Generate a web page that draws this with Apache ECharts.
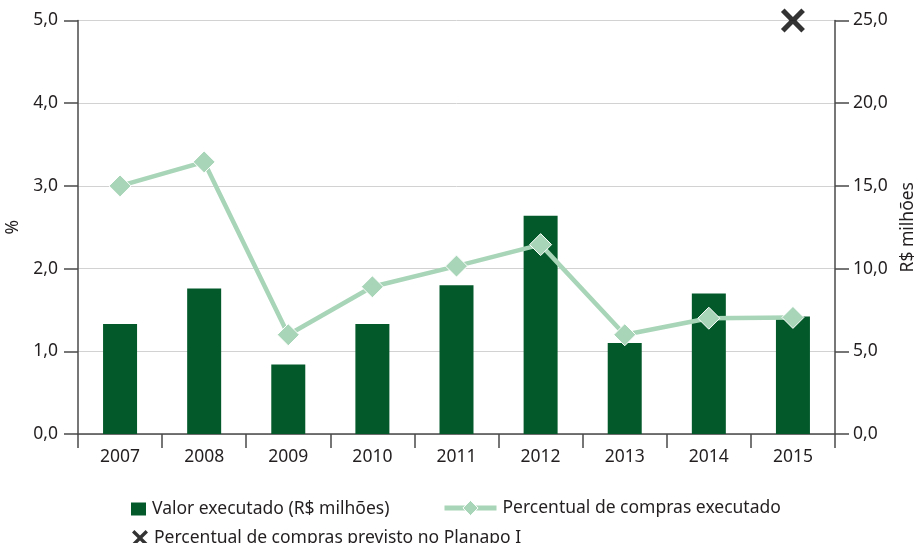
<!DOCTYPE html>
<html>
<head>
<meta charset="utf-8">
<script src="https://cdn.jsdelivr.net/npm/echarts@6/dist/echarts.min.js"></script>
<style>
  html, body { margin: 0; padding: 0; background: #fff; }
  #chart { width: 915px; height: 543px; }
</style>
</head>
<body>
<div id="chart"></div>
<script>
// dados
const anos = ["2007", "2008", "2009", "2010", "2011", "2012", "2013", "2014", "2015"];
const valorExecutado = [6.65, 8.8, 4.2, 6.65, 9.0, 13.2, 5.5, 8.5, 7.1]; // R$ milhões (eixo direito)
const percentualExecutado = [3.0, 3.29, 1.2, 1.78, 2.03, 2.29, 1.2, 1.4, 1.41]; // % (eixo esquerdo)
const percentualPrevisto = [null, null, null, null, null, null, null, null, 5.0];

const textColor = "#231f20";
const fontFamily = "'Noto Sans', 'Open Sans', sans-serif";
const barColor = "#03592a";
const lineColor = "#a8d5b7";
const axisColor = "#4a4a4a";
const xPath = "path://M0,3 L3,0 L10,7 L17,0 L20,3 L13,10 L20,17 L17,20 L10,13 L3,20 L0,17 L7,10 Z";

const fmt = (v) => v.toFixed(1).replace(".", ",");

const chart = echarts.init(document.getElementById("chart"), null, { renderer: "canvas" });

const legendText = { color: textColor, fontSize: 17.5, fontFamily: fontFamily, padding: [0, 0, 0, 1] };

chart.setOption({
  animation: false,
  textStyle: { fontFamily: fontFamily, color: textColor },
  grid: { left: 78, right: 80, top: 20.5, bottom: 109, containLabel: false, outerBoundsMode: "none" },
  legend: [
    {
      data: [{ name: "Valor executado (R$ milhões)", icon: "rect" }],
      left: 126, top: 495,
      itemWidth: 15, itemHeight: 13, itemGap: 0,
      textStyle: legendText
    },
    {
      data: ["Percentual de compras executado"],
      left: 437, top: 494,
      itemWidth: 52, itemHeight: 19, itemGap: 0,
      lineStyle: { width: 5 },
      itemStyle: { borderWidth: 1 },
      textStyle: legendText
    },
    {
      data: [{ name: "Percentual de compras previsto no Planapo I", icon: xPath }],
      left: 127, top: 524,
      itemWidth: 16, itemHeight: 16, itemGap: 0,
      itemStyle: { color: "#000" },
      textStyle: legendText
    }
  ],
  xAxis: {
    type: "category",
    data: anos,
    boundaryGap: true,
    axisLine: { lineStyle: { color: axisColor, width: 1.5 } },
    axisTick: { show: true, alignWithLabel: false, length: 14, lineStyle: { color: axisColor, width: 1.5 } },
    axisLabel: { color: textColor, fontSize: 17.5, margin: 14, fontFamily: fontFamily }
  },
  yAxis: [
    {
      type: "value",
      min: 0, max: 5, interval: 1,
      name: "%",
      nameLocation: "middle",
      nameGap: 50,
      nameRotate: 90,
      nameTextStyle: { color: textColor, fontSize: 17.5, fontFamily: fontFamily },
      axisLine: { show: true, lineStyle: { color: axisColor, width: 1.5 } },
      axisTick: { show: true, length: 14, lineStyle: { color: axisColor, width: 1.5 } },
      axisLabel: { color: textColor, fontSize: 17.5, margin: 20, formatter: fmt },
      splitLine: { show: true, lineStyle: { color: "#d2d2d2", width: 1 } }
    },
    {
      type: "value",
      min: 0, max: 25, interval: 5,
      position: "right",
      name: "R$ milhões",
      nameLocation: "middle",
      nameGap: 62,
      nameRotate: 90,
      nameTextStyle: { color: textColor, fontSize: 17.5, fontFamily: fontFamily },
      axisLine: { show: true, lineStyle: { color: axisColor, width: 1.5 } },
      axisTick: { show: true, length: 14, lineStyle: { color: axisColor, width: 1.5 } },
      axisLabel: { color: textColor, fontSize: 17.5, margin: 18, formatter: fmt },
      splitLine: { show: false }
    }
  ],
  series: [
    {
      name: "Valor executado (R$ milhões)",
      type: "bar",
      yAxisIndex: 1,
      data: valorExecutado,
      barWidth: 34,
      itemStyle: { color: barColor },
      z: 2
    },
    {
      name: "Percentual de compras executado",
      type: "line",
      yAxisIndex: 0,
      data: percentualExecutado,
      symbol: "diamond",
      symbolSize: 22,
      showAllSymbol: true,
      lineStyle: { color: lineColor, width: 4.5 },
      itemStyle: { color: lineColor, borderColor: "#fff", borderWidth: 1 },
      z: 3
    },
    {
      name: "Percentual de compras previsto no Planapo I",
      type: "scatter",
      yAxisIndex: 0,
      data: percentualPrevisto,
      symbol: xPath,
      symbolSize: 24,
      clip: false,
      itemStyle: { color: "#000" },
      z: 4
    }
  ]
});
</script>
</body>
</html>
